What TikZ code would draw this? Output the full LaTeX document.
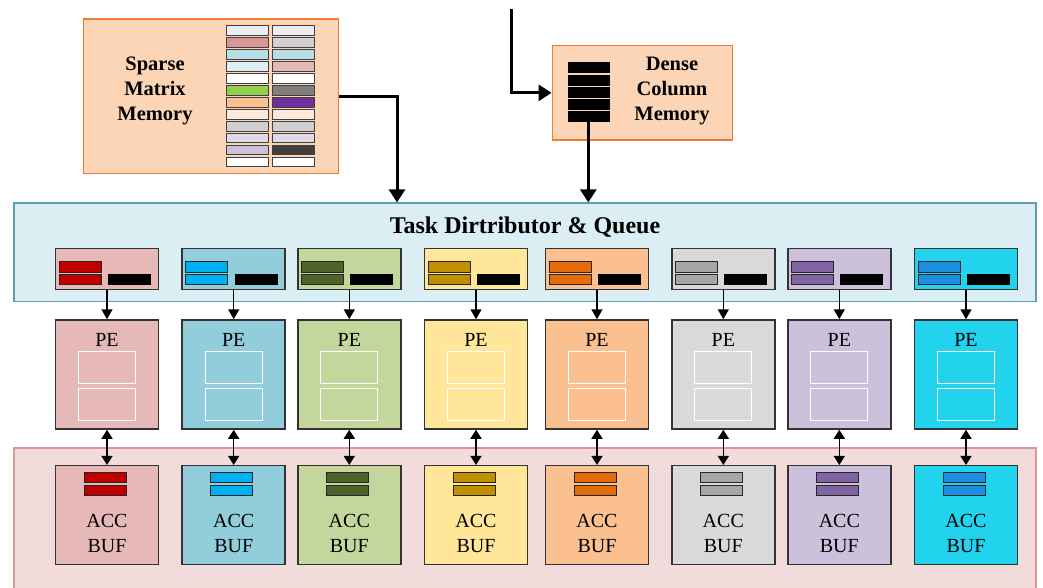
\documentclass[tikz,border=0pt]{standalone}
\usepackage{fontspec}
\setmainfont{Liberation Serif}
\usetikzlibrary{arrows.meta}
\definecolor{memfill}{HTML}{FBD5B5}
\definecolor{memdraw}{HTML}{ED7D31}
\definecolor{taskfill}{HTML}{DAEEF3}
\definecolor{taskdraw}{HTML}{5B9EB5}
\definecolor{accfill}{HTML}{F2DCDB}
\definecolor{accdraw}{HTML}{D99694}
\definecolor{box1}{HTML}{E6B9B8}\definecolor{bar1}{HTML}{C00000}
\definecolor{box2}{HTML}{92CDDC}\definecolor{bar2}{HTML}{00B0F0}
\definecolor{box3}{HTML}{C3D69B}\definecolor{bar3}{HTML}{4F6228}
\definecolor{box4}{HTML}{FFE699}\definecolor{bar4}{HTML}{BF9000}
\definecolor{box5}{HTML}{FAC090}\definecolor{bar5}{HTML}{E46C0A}
\definecolor{box6}{HTML}{D9D9D9}\definecolor{bar6}{HTML}{A6A6A6}
\definecolor{box7}{HTML}{CCC1DA}\definecolor{bar7}{HTML}{8064A2}
\definecolor{box8}{HTML}{22D3EE}\definecolor{bar8}{HTML}{1E90E0}
\begin{document}
\begin{tikzpicture}[x=1pt,y=-1pt,
  memory/.style={draw=memdraw,fill=memfill,line width=1.5pt,inner sep=0pt},
  cell/.style={draw=black!75,line width=1pt,minimum width=42pt,minimum height=9.6pt,inner sep=0pt},
  stackrow/.style={draw=memfill,fill=black,line width=0.6pt,minimum width=43pt,minimum height=12pt,inner sep=0pt},
  unitbox/.style={draw=black!80,line width=1.5pt,minimum width=103pt,inner sep=0pt},
  bar/.style={draw=black!85,line width=1pt,minimum width=42pt,minimum height=10.3pt,inner sep=0pt},
  blackbar/.style={fill=black,minimum width=43pt,minimum height=10.5pt,inner sep=0pt},
  inner/.style={draw=white,line width=1pt,minimum width=57pt,minimum height=32pt,inner sep=0pt},
  lbl/.style={font=\fontsize{20}{25.5}\selectfont,align=center,inner sep=0pt},
  blbl/.style={font=\bfseries\fontsize{20.5}{25}\selectfont,align=center,inner sep=0pt},
  bigarrow/.style={line width=3pt,-{Triangle[width=16pt,length=13pt]}},
  smallarrow/.style={line width=1.5pt,-{Triangle[width=11pt,length=10pt]}},
  dblarrow/.style={line width=1.5pt,{Triangle[width=11pt,length=9pt]}-{Triangle[width=11pt,length=9pt]}}
]
\useasboundingbox (0,0) rectangle (1043,588);

% memories
\node[memory,minimum width=255.4pt,minimum height=154.3pt] (sparse) at (211,96.2) {};
\node[blbl] (sparsetxt) at (155,91) {Sparse\\Matrix\\Memory};
\foreach \r/\colL/\colR in {1/EDEBF3/EDEBF3,2/D99694/D0D0D0,3/B7DEE8/B7DEE8,4/DAEEF3/E6B9B8,
  5/FFFFFF/FFFFFF,6/92D050/7F7F7F,7/FAC090/7030A0,8/FDE9D9/FDE9D9,9/D0D0D0/D0D0D0,
  10/DFD9E8/DFD9E8,11/CCC1DA/404040,12/FFFFFF/FFFFFF}{
  \definecolor{cellL}{HTML}{\colL}\definecolor{cellR}{HTML}{\colR}
  \node[cell,fill=cellL] (sl\r) at (247.7,{30.8+(\r-1)*11.93}) {};
  \node[cell,fill=cellR] (sr\r) at (293.2,{30.8+(\r-1)*11.93}) {};
}

\node[memory,minimum width=180pt,minimum height=94.3pt] (dense) at (642.3,92.85) {};
\node[blbl] (densetxt) at (672,91) {Dense\\Column\\Memory};
\foreach \r in {1,...,5}{
  \node[stackrow] (st\r) at (588.3,{67.8+(\r-1)*12.1}) {};
}

% task distributor
\node[draw=taskdraw,fill=taskfill,line width=1.5pt,minimum width=1022pt,minimum height=98.5pt,inner sep=0pt] (task) at (525,252.4) {};
\node[font=\bfseries\fontsize{24}{28}\selectfont,inner sep=0pt] (tasktxt) at (525,227) {Task Dirtributor \& Queue};

% accumulator region
\node[draw=accdraw,fill=accfill,line width=1.5pt,minimum width=1022pt,minimum height=150pt,inner sep=0pt,anchor=north] (accreg) at (525,447) {};

% columns
\foreach \i/\cx in {1/107,2/233.7,3/349.3,4/476,5/597,6/723.3,7/839.3,8/966}{
  % queue
  \node[unitbox,fill=box\i,minimum height=41pt] (q\i) at (\cx,268.8) {};
  \node[bar,fill=bar\i] (qa\i) at (\cx-27,267.1) {};
  \node[bar,fill=bar\i] (qb\i) at (\cx-27,279.2) {};
  \node[blackbar] (qk\i) at (\cx+22.3,279.5) {};
  % PE
  \node[unitbox,fill=box\i,minimum height=109pt] (p\i) at (\cx,374.5) {};
  \node[lbl] (pt\i) at (\cx,339.5) {PE};
  \node[inner] (pu\i) at (\cx,367.3) {};
  \node[inner] (pd\i) at (\cx,404.3) {};
  % ACC BUF
  \node[unitbox,fill=box\i,minimum height=98.6pt] (a\i) at (\cx,515) {};
  \node[bar,fill=bar\i] (aa\i) at (\cx-2,477.8) {};
  \node[bar,fill=bar\i] (ab\i) at (\cx-2,490.2) {};
  \node[lbl] (at\i) at (\cx,533.5) {ACC\\BUF};
  % connectors
  \draw[smallarrow] (q\i.south) -- (p\i.north);
  \draw[dblarrow] (p\i.south) -- (a\i.north);
}

% memory connectors
\coordinate (topin) at (511.5,9);
\draw[bigarrow] (topin) |- (dense.west);
\draw[bigarrow] (sparse.east |- 0,96.5) -| (task.north -| 397,0);
\draw[bigarrow] (st5.south) -- (task.north -| st5.south);
\end{tikzpicture}
\end{document}
